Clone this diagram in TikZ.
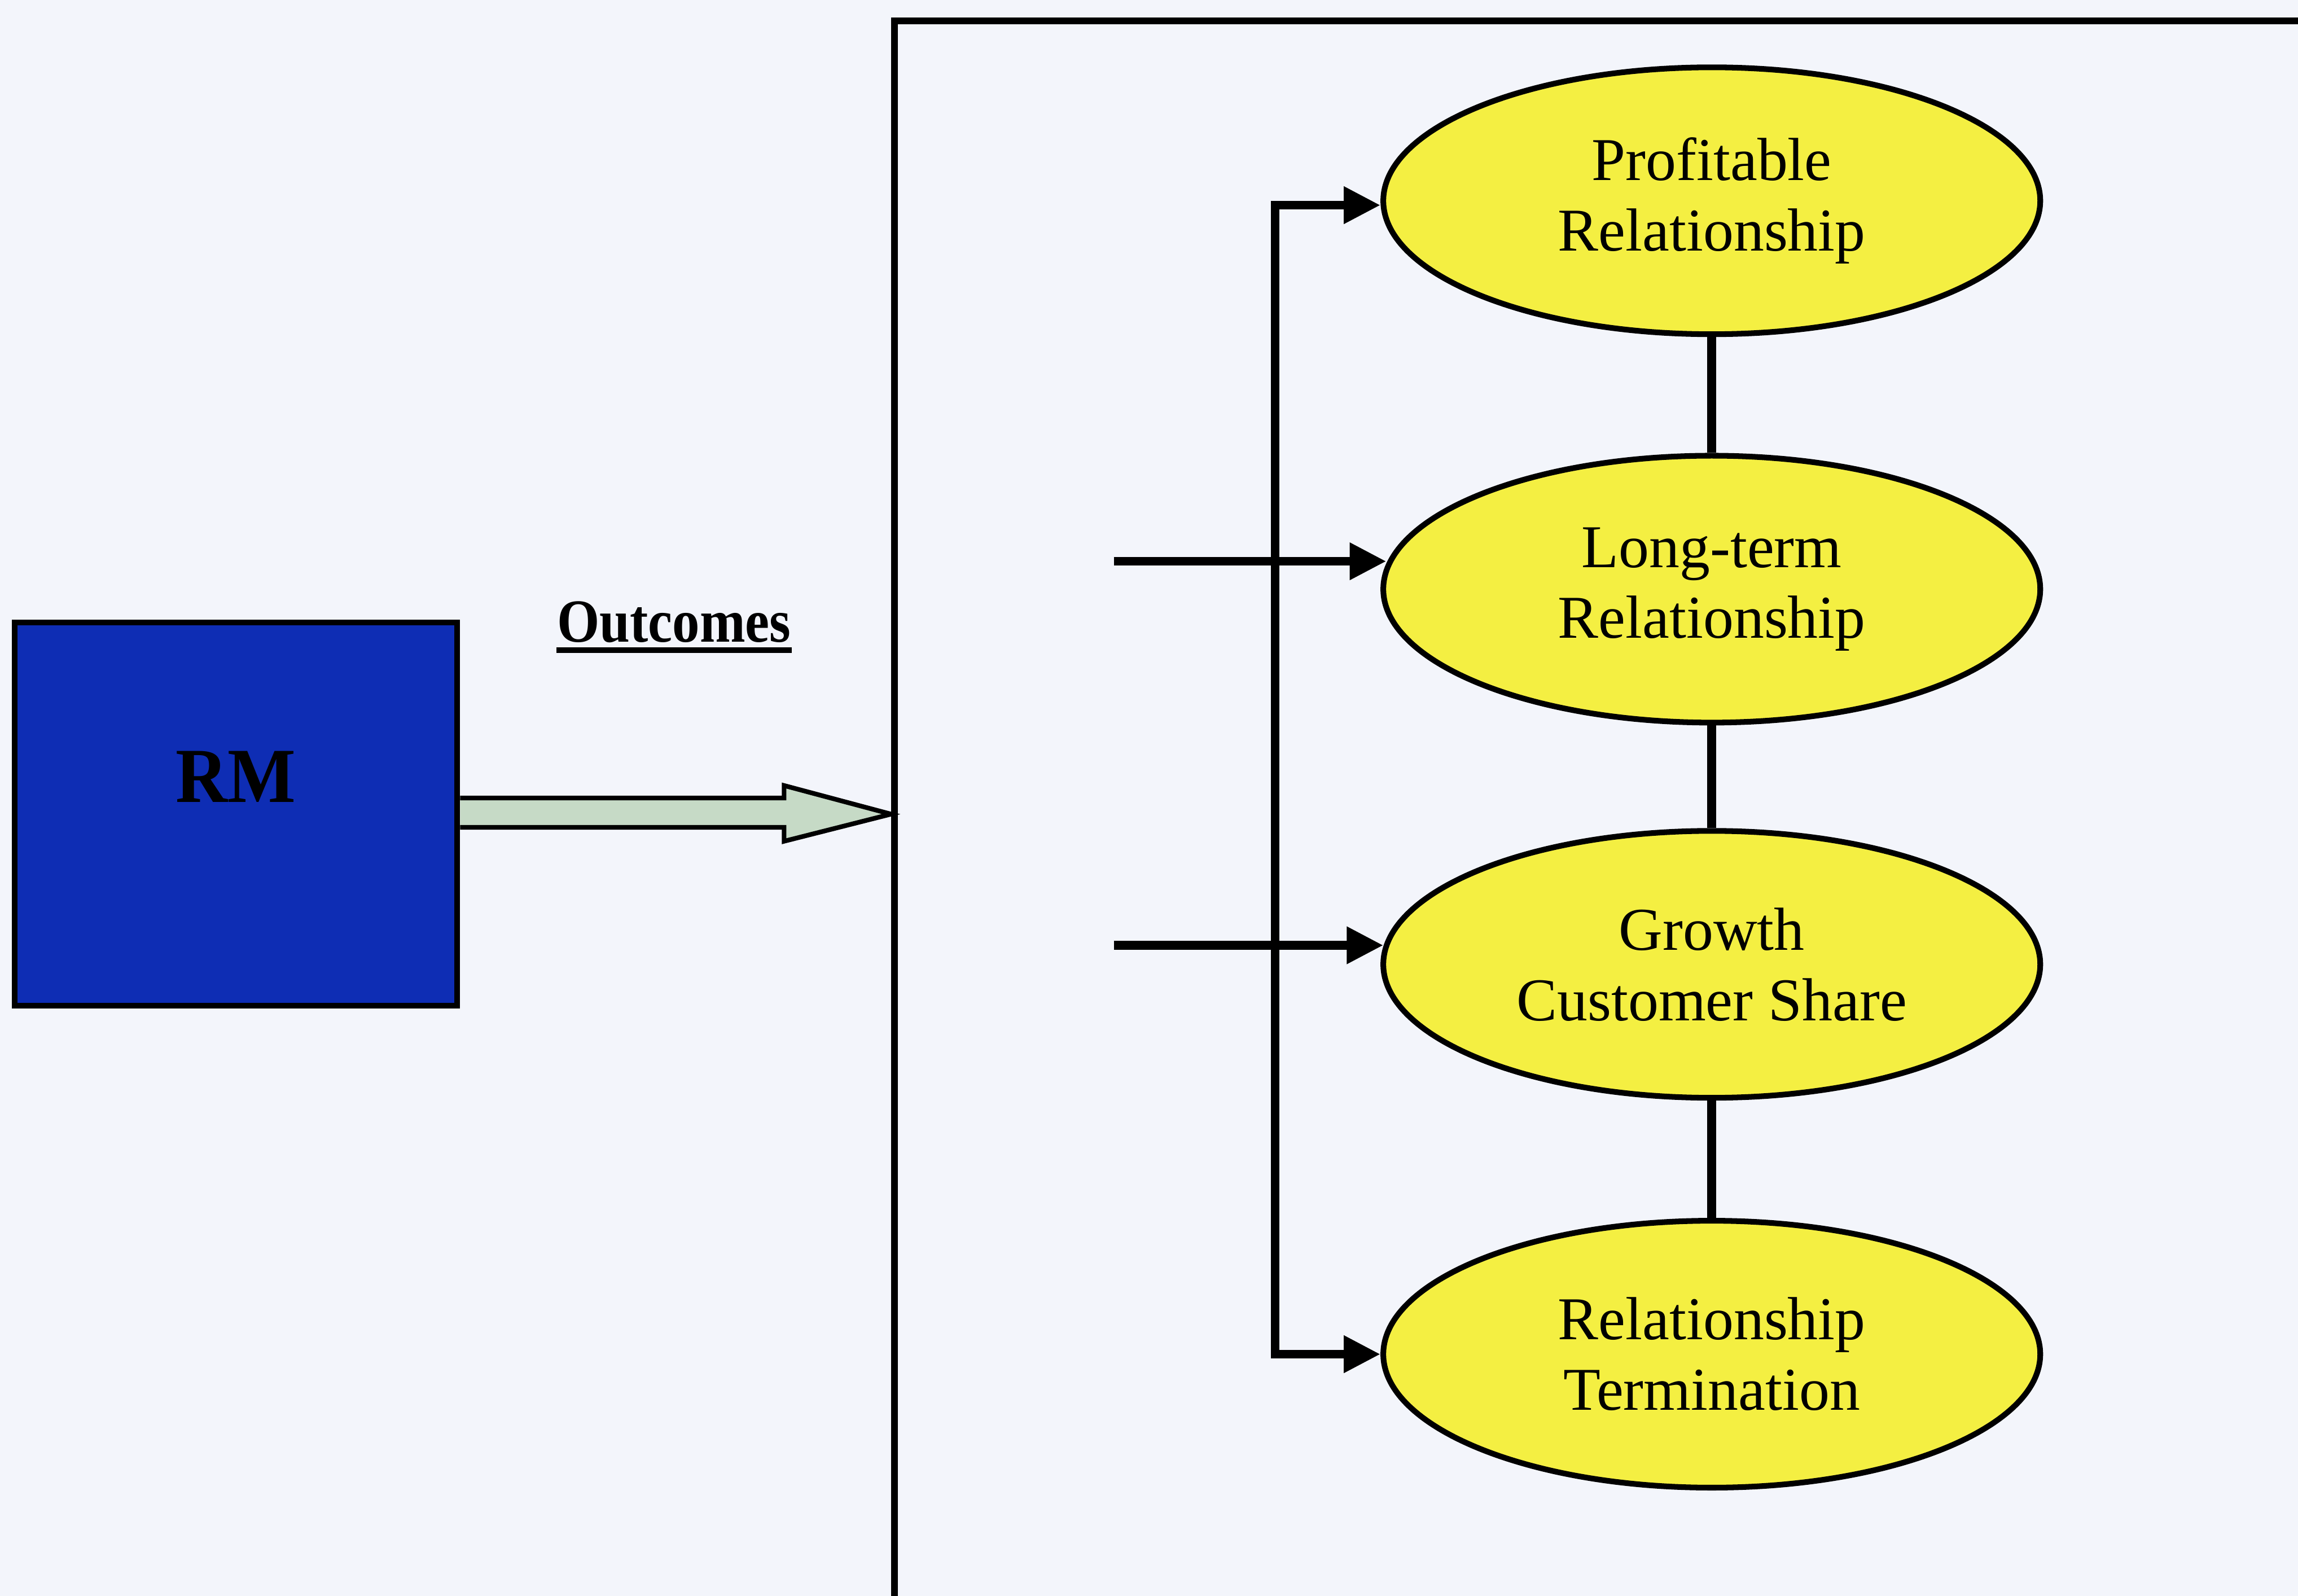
\documentclass[tikz,border=0pt]{standalone}
\usepackage{fontspec}
\setmainfont{Liberation Serif}
\usetikzlibrary{arrows.meta,shapes.geometric}
\definecolor{paper}{HTML}{F3F5FB}
\definecolor{rmblue}{HTML}{0E2DB4}
\definecolor{ovalyellow}{HTML}{F4EF42}
\definecolor{arrowgreen}{HTML}{C6DAC6}
\tikzset{tip/.tip={Triangle[length=0.25cm,width=0.24cm]}}
\begin{document}
\begin{tikzpicture}[x=0.01cm,y=-0.01cm,
  outcome/.style={ellipse, draw=black, line width=1.1pt, fill=ovalyellow,
    minimum width=4.48cm, minimum height=1.82cm, inner sep=0pt, align=center,
    font=\fontsize{11.8}{13.7}\selectfont},
  link/.style={line width=1.8pt},
  feed/.style={line width=1.7pt, line join=miter},
]
% page and clipping
\fill[paper] (0,0) rectangle (1568,1089);
\clip (0,0) rectangle (1568,1089);

% outer frame around the outcomes
\node[draw=black, line width=1.3pt, anchor=north west, minimum width=10cm,
  minimum height=11.2cm, inner sep=0pt] (frame) at (608,12) {};

% RM block
\node[draw=black, line width=1.1pt, fill=rmblue, minimum width=3.02cm,
  minimum height=2.61cm, inner sep=0pt] (rm) at (161,555.5) {};
\node[font=\bfseries\fontsize{14}{16}\selectfont, yscale=1.08, transform shape]
  (rmlabel) at (161,530) {RM};

% heading above the block arrow
\node[font=\bfseries\fontsize{10.6}{12}\selectfont, inner sep=0pt, anchor=base,
  yscale=1.12, transform shape] (outc) at (460,438) {Outcomes};
\draw[line width=1.1pt] ([yshift=-0.55mm]outc.base west) -- ([yshift=-0.55mm]outc.base east);

% block arrow from RM to the frame
\draw[line width=0.9pt, fill=arrowgreen, line join=miter]
  (rm.east |- 0,544.5) -- (535,544.5) -- (535,536) -- (frame.west |- rm.east)
  -- (535,574) -- (535,564.5) -- (rm.east |- 0,564.5);

% the four outcomes
\node[outcome] (e1) at (1168,137) {Profitable\\Relationship};
\node[outcome] (e2) at (1168,402) {Long-term\\Relationship};
\node[outcome] (e3) at (1168,658) {Growth\\Customer Share};
\node[outcome] (e4) at (1168,924) {Relationship\\Termination};

% vertical links between the outcomes
\draw[link] (e1) -- (e2);
\draw[link] (e2) -- (e3);
\draw[link] (e3) -- (e4);

% feeder arrows
\coordinate (bt) at (870,140);
\coordinate (bb) at (870,924);
\coordinate (s2) at (760,383);
\coordinate (s3) at (760,645);
\draw[feed, tip-tip] (bt -| e1.west) -- (bt) -- (bb) -- (bb -| e4.west);
\draw[feed, -tip] (s2) -- ([xshift=0.04cm]s2 -| e2.west);
\draw[feed, -tip] (s3) -- ([xshift=0.02cm]s3 -| e3.west);
\end{tikzpicture}
\end{document}
